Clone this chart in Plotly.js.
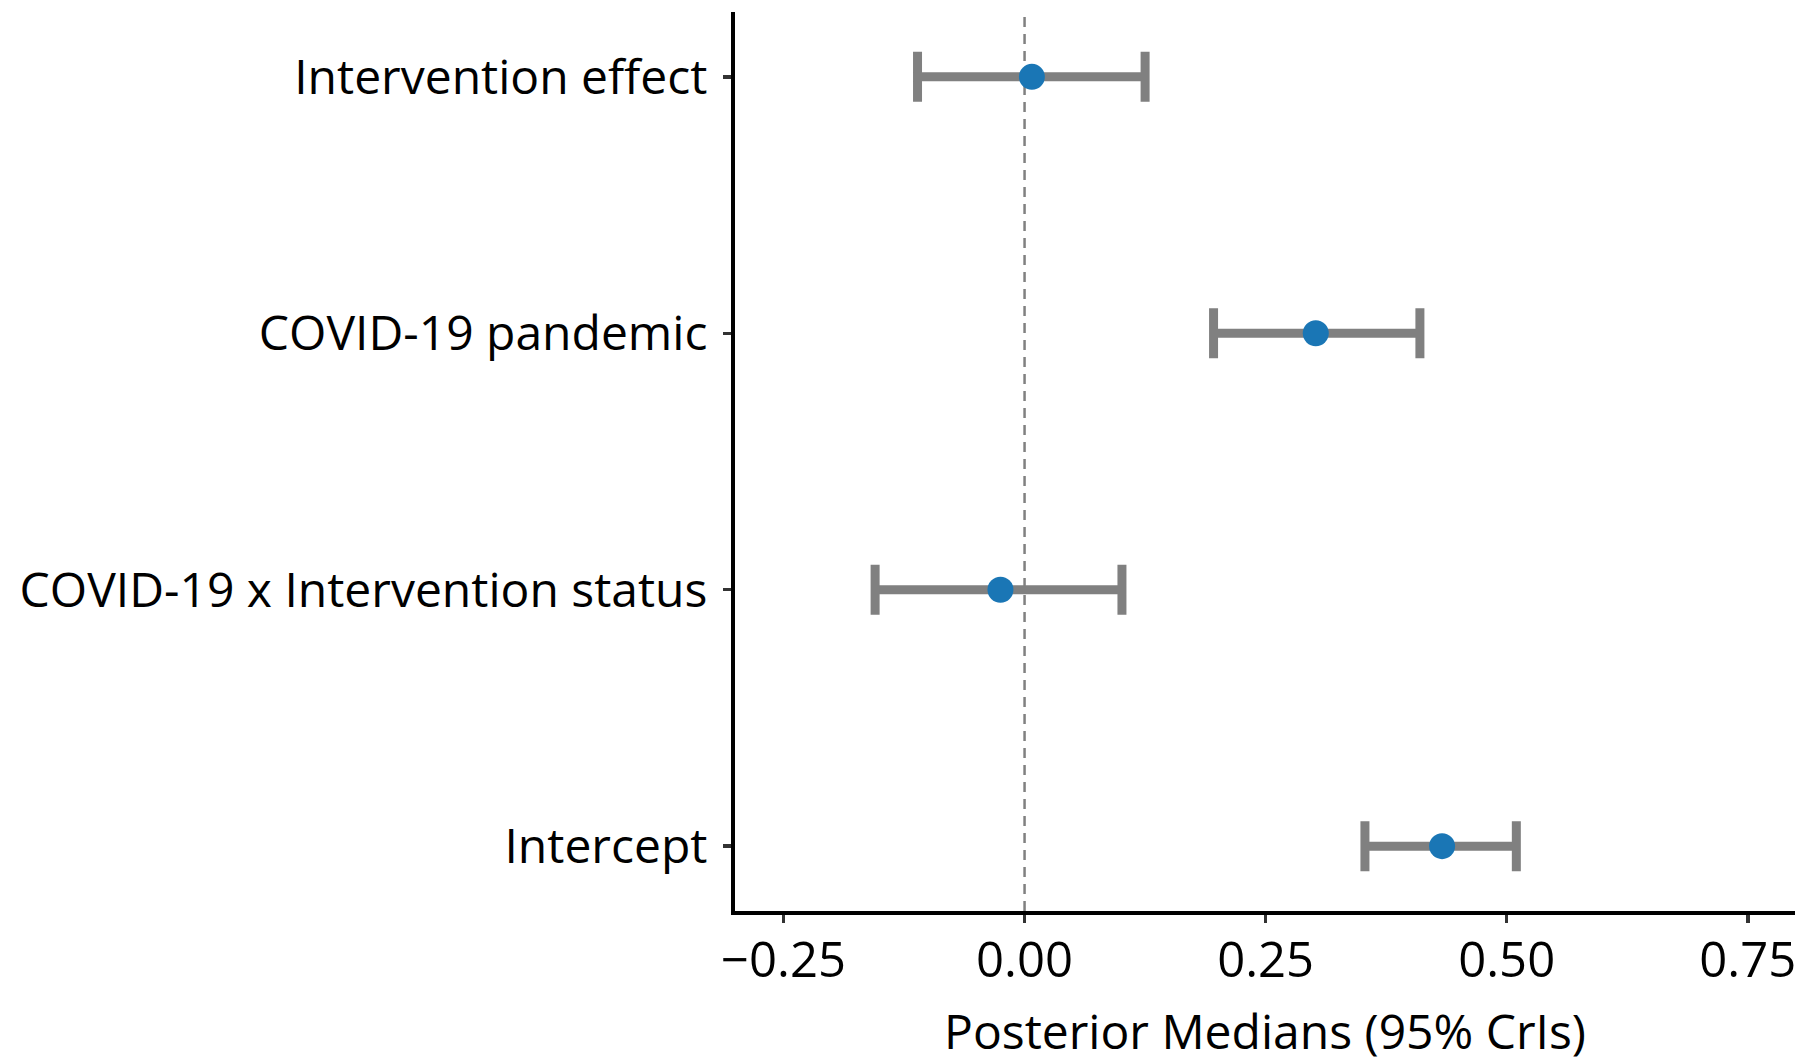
<!DOCTYPE html>
<html>
<head>
<meta charset="utf-8">
<script src="https://cdn.plot.ly/plotly-3.0.1.min.js"></script>
<style>html,body{margin:0;padding:0;background:#fff;}#chart{width:1819px;height:1063px;}</style>
</head>
<body>
<div id="chart"></div>
<script>
const terms = ["Intercept", "COVID-19 x Intervention status", "COVID-19 pandemic", "Intervention effect"];
const medians = [0.433, -0.025, 0.302, 0.0076];
const lower = [0.353, -0.155, 0.196, -0.111];
const upper = [0.510, 0.101, 0.410, 0.125];
const xTicks = [-0.25, 0, 0.25, 0.5, 0.75];
const xTickLabels = ["\u22120.25", "0.00", "0.25", "0.50", "0.75"];

const trace = {
  type: "scatter",
  mode: "markers",
  x: medians,
  y: terms,
  error_x: {
    type: "data",
    symmetric: false,
    array: medians.map((m, i) => upper[i] - m),
    arrayminus: medians.map((m, i) => m - lower[i]),
    color: "#808080",
    thickness: 9,
    width: 25
  },
  marker: {color: "#1a76b5", size: 26},
  hoverinfo: "x+y",
  showlegend: false
};

const fam = "'Open Sans', Lato, sans-serif";
const layout = {
  width: 1819,
  height: 1063,
  margin: {l: 735, r: 24, t: 12, b: 152},
  paper_bgcolor: "#ffffff",
  plot_bgcolor: "#ffffff",
  font: {family: fam, color: "#000"},
  xaxis: {
    range: [-0.3003, 0.799],
    tickvals: xTicks,
    ticktext: xTickLabels,
    showgrid: false,
    zeroline: false,
    showline: true,
    linecolor: "#000",
    linewidth: 4,
    ticks: "outside",
    ticklen: 8,
    tickwidth: 3.5,
    tickcolor: "#333",
    ticklabelstandoff: -5,
    tickfont: {size: 49, color: "#000"},
    title: {text: "Posterior Medians (95% CrIs)", font: {size: 48, color: "#000"}, standoff: 34}
  },
  yaxis: {
    type: "category",
    categoryorder: "array",
    categoryarray: terms,
    range: [-0.253, 3.253],
    showgrid: false,
    zeroline: false,
    showline: true,
    linecolor: "#000",
    linewidth: 4,
    ticks: "outside",
    ticklen: 8,
    tickwidth: 3.5,
    tickcolor: "#333",
    ticklabelstandoff: 6,
    tickfont: {size: 48, color: "#000"}
  },
  shapes: [{
    type: "line", xref: "x", yref: "paper",
    x0: 0, x1: 0, y0: 0, y1: 1,
    line: {color: "#808080", width: 2.5, dash: "10px,7px"},
    layer: "below"
  }]
};

Plotly.newPlot("chart", [trace], layout, {displayModeBar: false, staticPlot: true});
</script>
</body>
</html>
